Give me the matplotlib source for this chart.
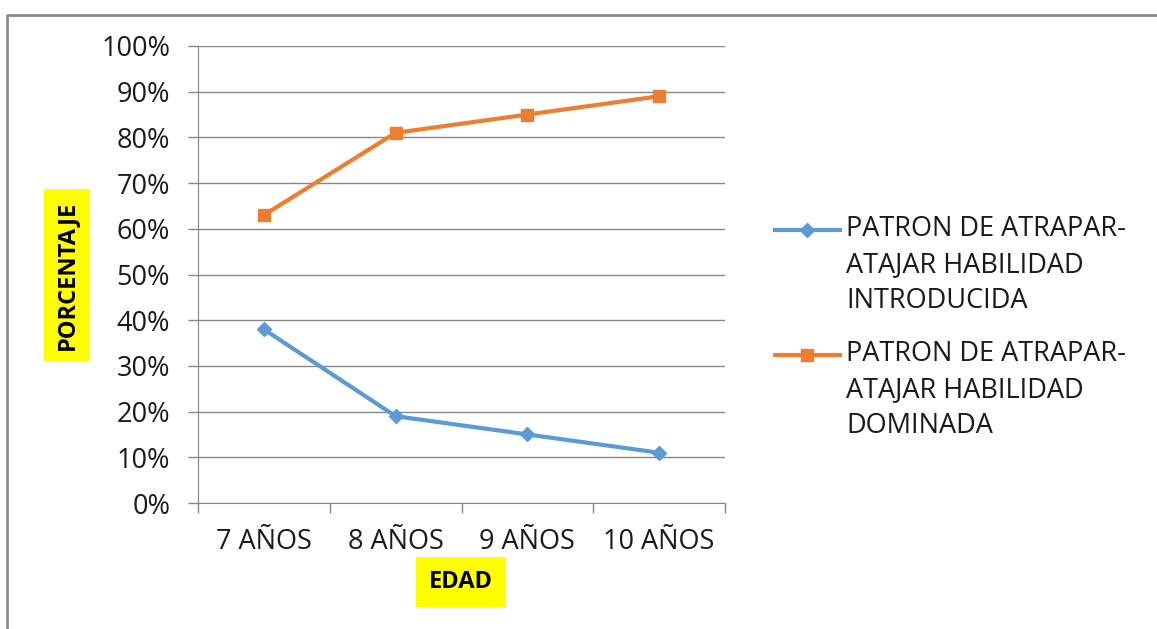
import matplotlib.pyplot as plt
from matplotlib.ticker import FixedLocator, PercentFormatter
from matplotlib.lines import Line2D

## Data ##

edades = ['7 AÑOS', '8 AÑOS', '9 AÑOS', '10 AÑOS']
introducida = [38, 19, 15, 11]
dominada = [63, 81, 85, 89]

lbl_intro = 'PATRON DE ATRAPAR-\nATAJAR HABILIDAD\nINTRODUCIDA'
lbl_dom = 'PATRON DE ATRAPAR-\nATAJAR HABILIDAD\nDOMINADA'

plt.rcParams['font.family'] = ['Open Sans', 'DejaVu Sans']

W, H = 1157, 629
fig = plt.figure(figsize=(W / 100, H / 100), dpi=100)

# outer chart border (top and left edges only)
fig.add_artist(Line2D([7 / W, 7 / W, 1], [0, 1 - 15 / H, 1 - 15 / H],
                      transform=fig.transFigure, color='#8c8c8c', lw=2))

ax = fig.add_axes([198 / W, 1 - 503 / H, 527 / W, 457 / H])

x = list(range(len(edades)))
series = [
    (introducida, '#5B9BD5', 'D', 7.5, lbl_intro),
    (dominada, '#ED7D31', 's', 8.5, lbl_dom),
]
for vals, col, mk, ms, lbl in series:
    ax.plot(x, vals, color=col, lw=3, marker=mk, ms=ms, label=lbl)

ax.set_xlim(-0.5, len(edades) - 0.5)
ax.set_ylim(0, 100)

ax.set_xticks(x)
ax.set_xticklabels(edades)
ax.xaxis.set_minor_locator(FixedLocator([i - 0.5 for i in range(len(edades) + 1)]))
ax.tick_params(axis='x', which='major', length=0, pad=18, labelsize=19.5, colors='#1a1a1a')
ax.tick_params(axis='x', which='minor', length=7, color='#868686', width=1)

ax.set_yticks(range(0, 101, 10))
ax.yaxis.set_major_formatter(PercentFormatter(decimals=0))
ax.tick_params(axis='y', length=7, color='#868686', width=1, pad=13,
               labelsize=19.5, labelcolor='#1a1a1a')

ax.grid(axis='y', color='#868686', lw=1)
ax.set_axisbelow(True)
for s in ['top', 'right']:
    ax.spines[s].set_visible(False)
for s in ['left', 'bottom']:
    ax.spines[s].set_color('#868686')

# axis titles on yellow boxes
fig.text(67 / W, 1 - 275 / H, 'PORCENTAJE', rotation=90, ha='center', va='center',
         fontsize=17, fontweight='bold',
         bbox=dict(facecolor='#FFFF00', edgecolor='none', pad=8))
fig.text(461 / W, 1 - 582 / H, 'EDAD', ha='center', va='center',
         fontsize=17, fontweight='bold',
         bbox=dict(facecolor='#FFFF00', edgecolor='none', pad=9))

# legend: handle lined up with the first line of each label
for (vals, col, mk, ms, lbl), ypx in zip(series, [230, 355]):
    y = 1 - ypx / H
    fig.add_artist(Line2D([775 / W, 840 / W], [y, y], transform=fig.transFigure,
                          color=col, lw=3))
    fig.add_artist(Line2D([807 / W], [y], transform=fig.transFigure,
                          color=col, marker=mk, ms=ms, lw=0))
    fig.text(846 / W, 1 - (ypx - 15) / H, lbl, ha='left', va='top', fontsize=19.5,
             linespacing=1.38, color='#1a1a1a')

fig.savefig('out.png', dpi=100)
